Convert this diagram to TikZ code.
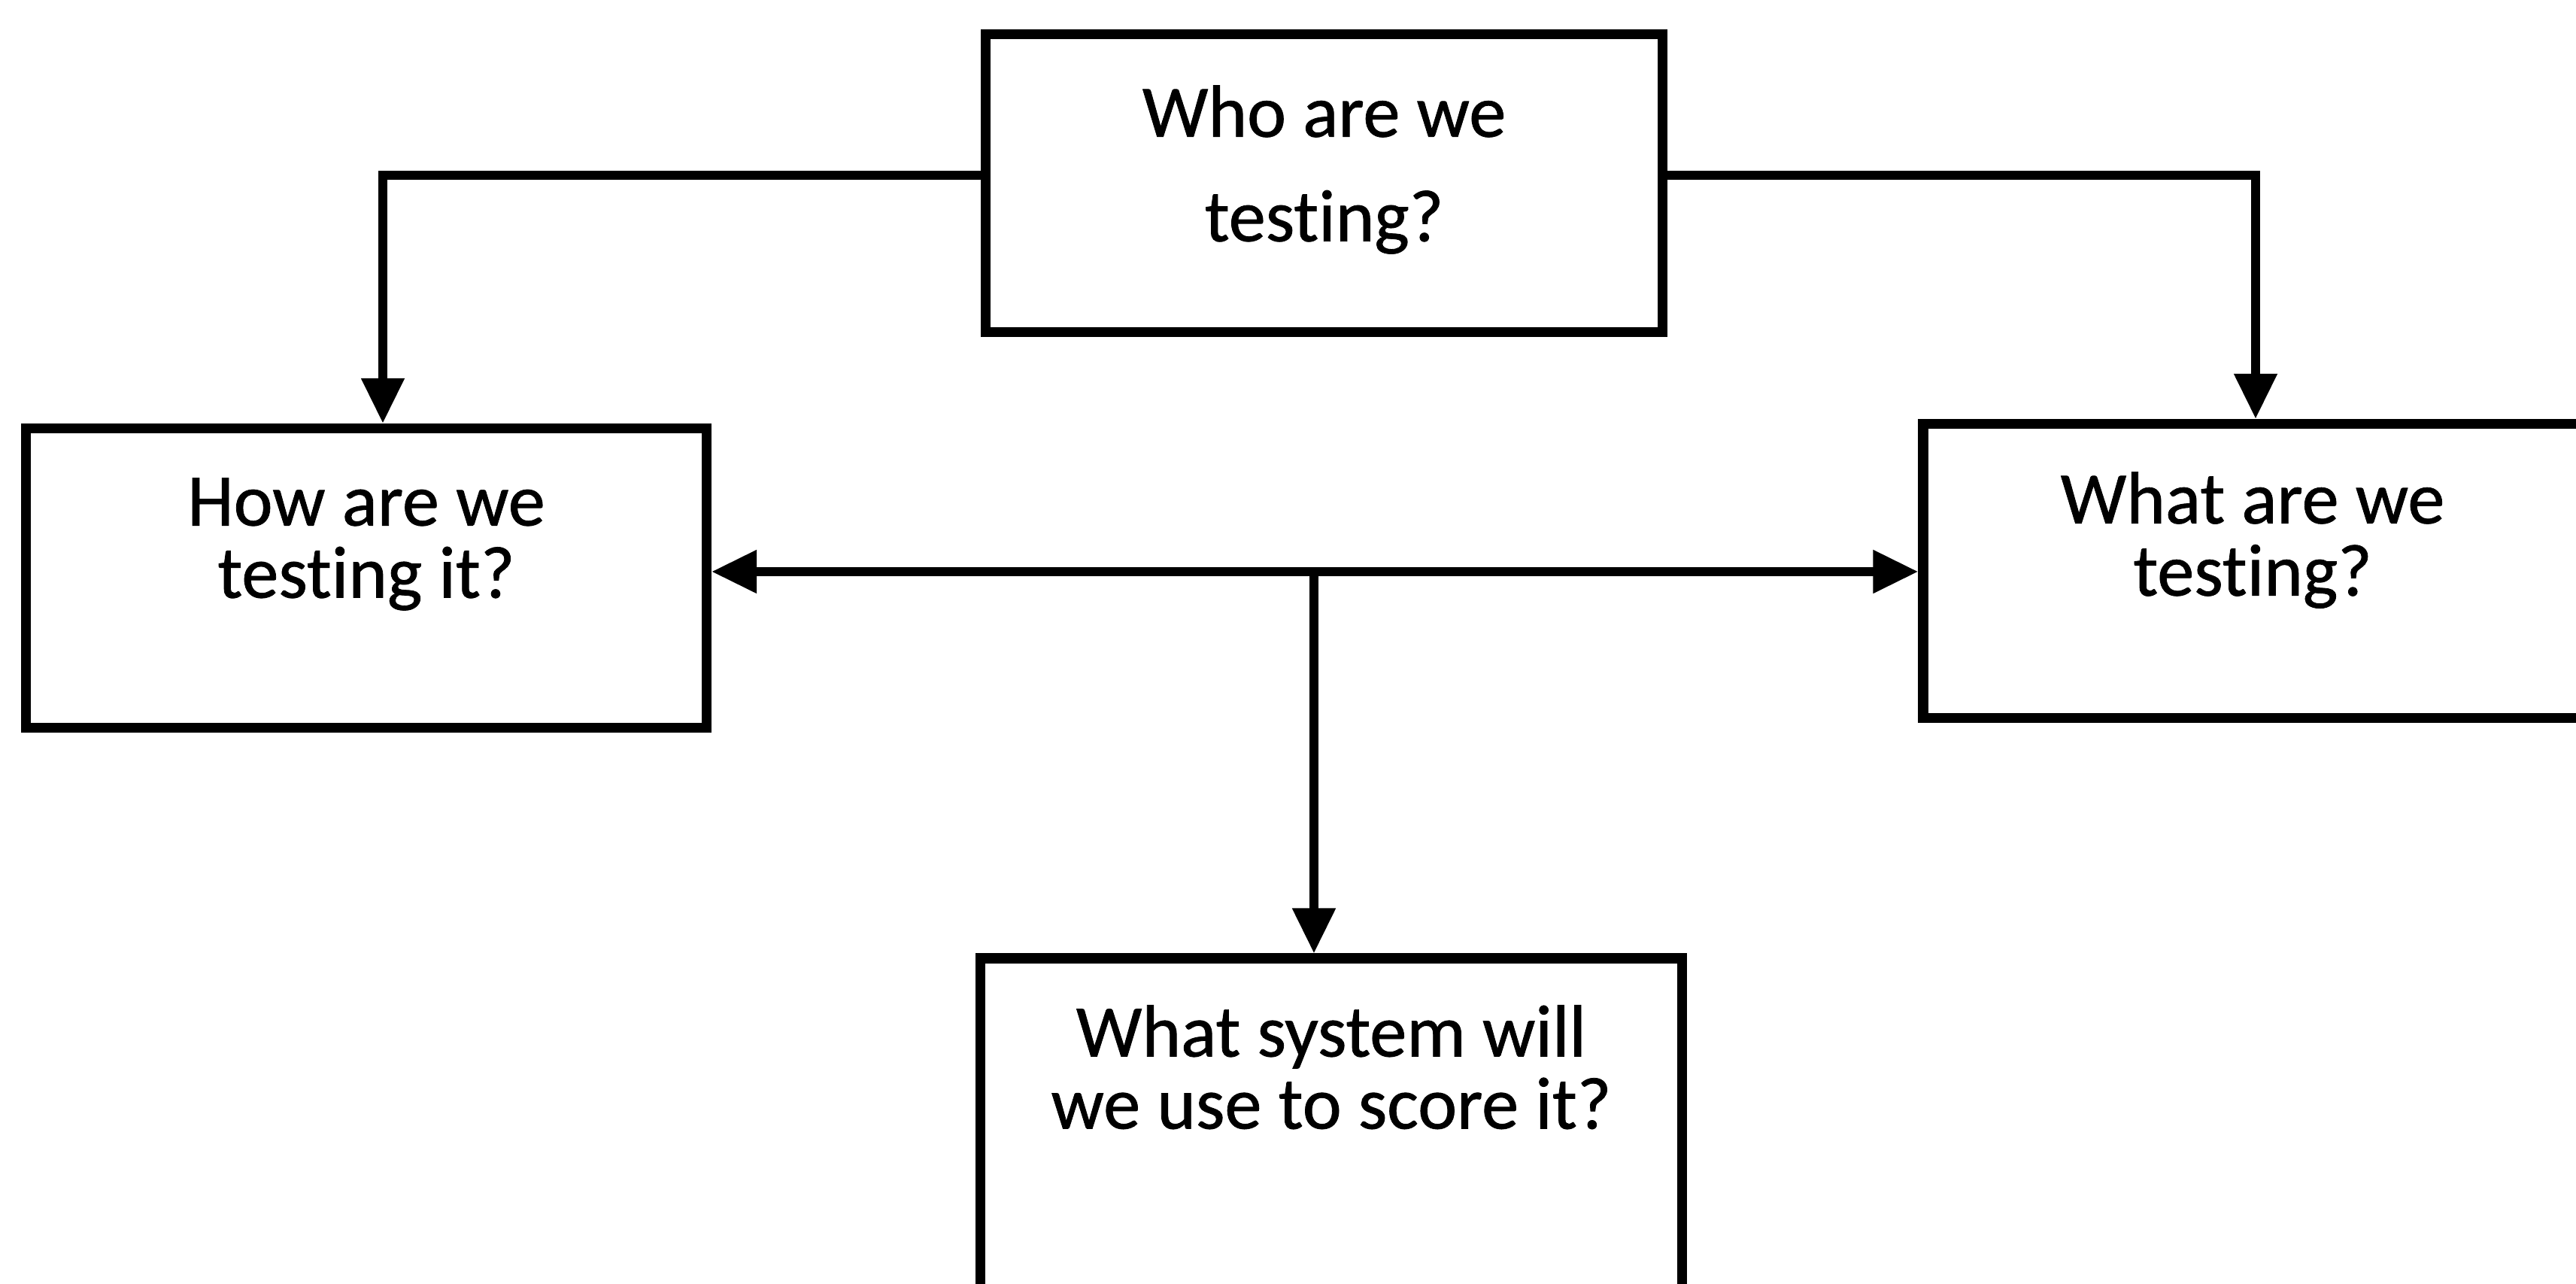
\documentclass[tikz,border=0pt]{standalone}
\usepackage{fontspec}
\setmainfont{Carlito}[Ligatures=NoCommon, FakeBold=0.8]
\usetikzlibrary{arrows.meta,positioning}

\begin{document}
\begin{tikzpicture}[
    qbox/.style={draw, line width=3.8pt, minimum width=#1, inner sep=0pt},
    qtext/.style={font=\fontsize{28pt}{27.3pt}\selectfont, align=center, inner sep=0pt},
    arr/.style={line width=3.3pt, -{Triangle[length=0.6cm, width=0.55cm]}},
    arrs/.style={line width=3.3pt, {Triangle[length=0.6cm, width=0.55cm]}-{Triangle[length=0.6cm, width=0.55cm]}}
  ]
  \useasboundingbox (0,0) rectangle (34.25,17.07);

  % question boxes
  \node[qbox=9.00cm, minimum height=3.96cm] (who)   at (17.605, 14.635) {};
  \node[qbox=9.05cm, minimum height=3.98cm] (how)   at (4.87, 9.385) {};
  \node[qbox=8.76cm, minimum height=3.91cm] (what)  at (29.95, 9.48) {};
  \node[qbox=9.33cm, minimum height=6.00cm, anchor=north] (score) at (17.70, 4.395) {};

  % texts, near the top of each box
  \node[qtext, font=\fontsize{28pt}{39.5pt}\selectfont, below=0.74cm of who.north] (whoText)
    {Who are we\\testing?};
  \node[qtext, below=0.72cm of how.north] (howText) {How are we\\testing it?};
  \node[qtext, below=0.70cm of what.north] (whatText) {What are we\\testing?};
  \node[qtext, below=0.68cm of score.north] (scoreText)
    {What system will\\we use to score it?};

  % connectors
  \coordinate (hub) at (17.47, 9.47);
  \draw[arr] ([yshift=1.05mm]who.west) -| ([xshift=2.2mm]how.north);
  \draw[arr] ([yshift=1.05mm]who.east) -| ([xshift=0.4mm]what.north);
  \draw[arrs] (how.east |- hub) -- (what.west |- hub);
  \draw[arr] (hub) -- (hub |- score.north);
\end{tikzpicture}
\end{document}
